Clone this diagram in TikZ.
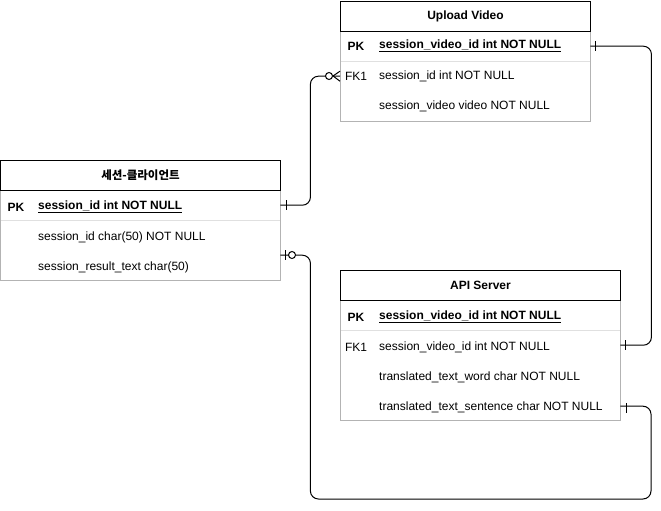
\documentclass[tikz,border=0pt]{standalone}
\usepackage{fontspec}
\setmainfont{Liberation Sans}
\newfontfamily\krfont{Noto Sans CJK KR}
\definecolor{bodygray}{HTML}{B3B3B3}
\definecolor{sepgray}{HTML}{E0E0E0}
\begin{document}
\begin{tikzpicture}[x=1pt,y=-1pt,
  every node/.style={font=\fontsize{12}{14}\selectfont, inner sep=0pt},
  hdr/.style={draw=black, line width=1pt, fill=white, minimum height=30pt, anchor=north west, font=\fontsize{12}{14}\selectfont\bfseries},
  row/.style={minimum height=30pt, anchor=north west},
  keytxt/.style={anchor=center},
  pktxt/.style={anchor=center, font=\fontsize{12}{14}\selectfont\bfseries},
  fld/.style={anchor=west},
  pkfld/.style={anchor=west, font=\fontsize{12}{14}\selectfont\bfseries},
  conn/.style={draw=black, line width=1pt, rounded corners=8pt},
  tick/.style={draw=black, line width=1pt},
  ring/.style={draw=black, line width=1pt, fill=white}
]
\useasboundingbox (0,0) rectangle (661,511);

% ---------- Upload Video ----------
\draw[bodygray, line width=1pt] (340,31) rectangle (590,121);
\node[hdr, minimum width=250pt] (uvh) at (340,1) {Upload Video};
\node[row, minimum width=250pt] (uvpk) at (340,31) {};
\node[row, minimum width=250pt] (uvfk) at (340,61) {};
\node[row, minimum width=250pt] (uvvid) at (340,91) {};
\draw[sepgray, line width=1pt] (uvpk.south west) ++(0.5,0) -- ([xshift=-0.5pt]uvpk.south east);
\node[pktxt] (uvpkk) at (356,46) {PK};
\node[pkfld] (uvpkf) at (379,46) {\underline{session\_video\_id int NOT NULL}};
\node[keytxt] (uvfkk) at (356,76) {FK1};
\node[fld] (uvfkf) at (379,76) {session\_id int NOT NULL};
\node[fld] (uvvidf) at (379,106) {session\_video video NOT NULL};

% ---------- 세션-클라이언트 ----------
\draw[bodygray, line width=1pt] (0,190) rectangle (280,280);
\node[hdr, minimum width=280pt, font=\krfont\fontsize{11.5}{14}\selectfont\bfseries] (sh) at (0,160) {세션-클라이언트};
\node[row, minimum width=280pt] (spk) at (0,190) {};
\node[row, minimum width=280pt] (sid) at (0,220) {};
\node[row, minimum width=280pt] (sres) at (0,250) {};
\draw[sepgray, line width=1pt] ([xshift=0.5pt]spk.south west) -- ([xshift=-0.5pt]spk.south east);
\node[pktxt] (spkk) at (16,207) {PK};
\node[pkfld] (spkf) at (38,207) {\underline{session\_id int NOT NULL}};
\node[fld] (sidf) at (38,237) {session\_id char(50) NOT NULL};
\node[fld] (sresf) at (38,267) {session\_result\_text char(50)};

% ---------- API Server ----------
\draw[bodygray, line width=1pt] (340,300) rectangle (620,420);
\node[hdr, minimum width=280pt] (ah) at (340,270) {API Server};
\node[row, minimum width=280pt] (apk) at (340,300) {};
\node[row, minimum width=280pt] (afk) at (340,330) {};
\node[row, minimum width=280pt] (aword) at (340,360) {};
\node[row, minimum width=280pt] (asent) at (340,390) {};
\draw[sepgray, line width=1pt] ([xshift=0.5pt]apk.south west) -- ([xshift=-0.5pt]apk.south east);
\node[pktxt] (apkk) at (356,317) {PK};
\node[pkfld] (apkf) at (379,317) {\underline{session\_video\_id int NOT NULL}};
\node[keytxt] (afkk) at (356,347) {FK1};
\node[fld] (afkf) at (379,347) {session\_video\_id int NOT NULL};
\node[fld] (awordf) at (379,377) {translated\_text\_word char NOT NULL};
\node[fld] (asentf) at (379,407) {translated\_text\_sentence char NOT NULL};

% ---------- connectors ----------
% 1: 세션 PK -> Upload Video FK1 (one to zero-or-many)
\draw[conn] ([yshift=0pt]spk.east) -- ++(30,0) |- ([xshift=-11pt]uvfk.west);
\draw[tick] (286,200) -- (286,210);
\draw[tick] (333,76) -- (uvfk.west);
\draw[tick] (333,76) -- ([yshift=5pt]uvfk.west);
\draw[tick] (333,76) -- ([yshift=-5pt]uvfk.west);
\draw[ring] (329,76) circle (3.5);

% 2: Upload Video PK -> API Server FK1 (one to one)
\draw[conn] (uvpk.east) -- ++(61,0) |- (afk.east);
\draw[tick] (595,41) -- (595,51);
\draw[tick] (625,340) -- (625,350);

% 3: 세션 result -> API Server sentence
\coordinate (c3) at (651,499);
\draw[conn] ([yshift=10pt]sres.east) -- ++(30,0) |- (c3) |- ([yshift=-1pt]asent.east);
\draw[tick] (285,250) -- (285,260);
\draw[ring] (292,255) circle (3.5);
\draw[tick] (626,403) -- (626,413);
\end{tikzpicture}
\end{document}
